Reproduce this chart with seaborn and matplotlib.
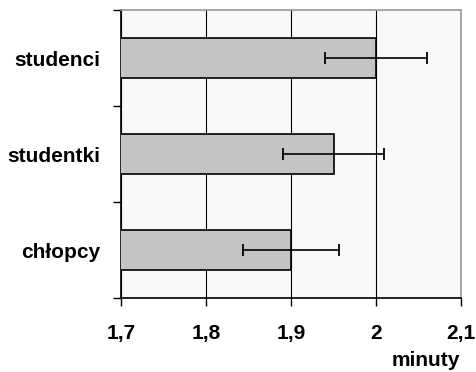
import matplotlib
matplotlib.use("Agg")
import matplotlib.pyplot as plt
import seaborn as sns
import pandas as pd
from matplotlib.ticker import FixedLocator

categories = ["studenci", "studentki", "chłopcy"]
values = [2.00, 1.95, 1.90]
errors = [0.06, 0.059, 0.057]
x_ticks = [1.7, 1.8, 1.9, 2.0, 2.1]
x_tick_labels = ["1,7", "1,8", "1,9", "2", "2,1"]

sns.set_theme(style="white")
plt.rcParams['font.family'] = ['Liberation Sans', 'DejaVu Sans']
plt.rcParams['font.weight'] = 'bold'

df = pd.DataFrame({"kategoria": categories, "wartosc": values})

fig = plt.figure(figsize=(4.76, 3.72), dpi=100)
ax = fig.add_axes([121/476, 1 - 298/372, (461-121)/476, (298-10)/372])
ax.set_facecolor("#F9F9F9")

sns.barplot(data=df, x="wartosc", y="kategoria", orient="h", color="#C4C4C4",
            edgecolor="black", linewidth=1.2, width=0.41, saturation=1, ax=ax, zorder=3)
ax.errorbar(values, range(len(categories)), xerr=errors, fmt="none", ecolor="black",
            elinewidth=1.2, capsize=4, capthick=1.3, zorder=4)

ax.set_xlim(1.7, 2.1)
ax.set_ylim(2.5, -0.5)
ax.set_xticks(x_ticks)
ax.set_xticklabels(x_tick_labels, fontsize=15, fontweight="bold", color="black")
ax.set_yticks(range(len(categories)))
ax.set_yticklabels(categories, fontsize=15, fontweight="bold", color="black")
ax.yaxis.set_minor_locator(FixedLocator([-0.5, 0.5, 1.5, 2.5]))
ax.tick_params(axis="y", which="major", length=0, pad=15)
ax.tick_params(axis="y", which="minor", length=6, width=1, color="black", left=True)
ax.tick_params(axis="x", which="major", length=6, width=1, color="black", bottom=True, pad=13)

ax.grid(axis="x", color="black", linewidth=0.8, zorder=0)
ax.set_axisbelow(True)
ax.set_ylabel("")
ax.set_xlabel("")
fig.text(460/476, 1 - 366/372, "minuty", fontsize=15, fontweight="bold", color="black",
         ha="right", va="baseline")

for s in ["left", "bottom"]:
    ax.spines[s].set_color("black")
    ax.spines[s].set_linewidth(1.2)
for s in ["top", "right"]:
    ax.spines[s].set_color("#999999")
    ax.spines[s].set_linewidth(1.2)

fig.savefig("out.png", dpi=100)
